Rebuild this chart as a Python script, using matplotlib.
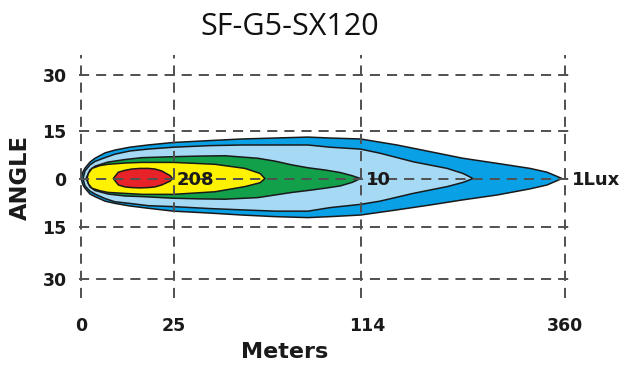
import numpy as np
import matplotlib
matplotlib.use("Agg")
import matplotlib.pyplot as plt
from matplotlib.transforms import ScaledTranslation

# axis ticks (distance in meters is not evenly spaced on the chart)
x_ticks = [0, 25, 114, 360]
y_ticks = [-30, -15, 0, 15, 30]
y_tick_labels = ["30", "15", "0", "15", "30"]

# isolux outlines: distance (m), upper edge (deg), lower edge (deg)
lux1_x = [0, 0.54, 1.08, 2.43, 3.78, 6.49, 9.19, 13.2, 18.1, 25, 42.4, 57.6, 73.3, 89.0, 99.5, 114,
          157.9, 197.6, 237.3, 278.2, 317.9, 338.4, 356.4]
lux1_up = [0, 2.1, 3.3, 5.2, 6.4, 8.1, 9.0, 9.9, 10.6, 11.4, 12.0, 12.5, 12.8, 13.1, 12.8, 12.5,
           10.6, 8.5, 6.4, 4.8, 3.2, 2.0, 0]
lux1_lo = [0, -2.0, -3.0, -4.8, -5.6, -7.0, -7.7, -8.5, -9.2, -10.1, -10.7, -11.3, -11.8, -12.1, -11.8, -11.3,
           -9.7, -8.2, -6.6, -5.1, -3.2, -2.0, 0]

lux3_x = [0.54, 1.08, 2.43, 3.78, 6.49, 9.19, 13.2, 18.1, 25, 42.4, 57.6, 73.3, 89.0, 99.5, 114,
          137.5, 177.3, 218.2, 237.3, 249.4]
lux3_up = [0, 2.4, 4.3, 5.4, 6.6, 7.7, 8.7, 9.3, 9.9, 10.4, 10.6, 10.6, 10.6, 9.9, 9.3,
           8.0, 5.3, 3.2, 1.6, 0]
lux3_lo = [0, -2.3, -3.9, -4.8, -6.2, -7.2, -7.7, -8.4, -8.7, -9.3, -9.7, -10.1, -10.1, -9.0, -8.0,
           -7.0, -4.6, -2.5, -1.2, 0]

lux10_x = [1.35, 2.43, 3.78, 7.30, 11.9, 16.5, 25, 37.6, 49.5, 65.2, 73.3, 81.4, 89.0, 97.1, 104.3, 110.0, 114]
lux10_up = [0, 2.7, 3.9, 5.2, 6.0, 6.6, 6.9, 7.1, 7.2, 6.4, 5.5, 4.3, 3.4, 2.7, 1.9, 0.9, 0]
lux10_lo = [0, -2.6, -3.7, -4.8, -5.4, -5.6, -6.1, -6.3, -6.4, -5.9, -5.1, -4.3, -3.7, -3.0, -2.3, -1.2, 0]

lux40_x = [1.62, 2.03, 2.97, 5.14, 7.30, 11.9, 16.5, 25, 44.7, 59.0, 66.2, 68.5]
lux40_up = [0, 1.7, 3.2, 4.1, 4.5, 4.9, 5.1, 5.1, 4.5, 3.2, 1.6, 0]
lux40_lo = [0, -1.7, -3.0, -3.8, -4.3, -4.6, -4.9, -4.9, -4.1, -2.5, -1.3, 0]

lux208_x = [8.73, 10.1, 11.9, 13.7, 16.0, 18.2, 20.0, 21.8, 24.1, 24.7]
lux208_up = [0, 2.0, 2.6, 3.0, 3.2, 3.2, 3.0, 2.4, 0.9, 0]
lux208_lo = [0, -2.0, -2.6, -2.8, -2.9, -2.8, -2.6, -2.0, -0.8, 0]

zone_colors = ["#0aa0e6", "#a6d9f4", "#13a04b", "#fff200", "#e82229"]

labels = ["208", "10", "1Lux"]
label_x = [25, 114, 360]

# piecewise linear scales so the ticks sit where the original has them
xm = [-100, 0, 25, 114, 360, 1000]
xp = [-370, 0, 92.5, 279.5, 484, 1016]
ya = [-90, -30, -15, 0, 15, 30, 90]
yp = [-308.7, -100.5, -48.5, 0, 47.5, 103.5, 327.3]


def fx(v):
    return np.interp(v, xm, xp)


def fx_inv(v):
    return np.interp(v, xp, xm)


def fy(v):
    return np.interp(v, ya, yp)


def fy_inv(v):
    return np.interp(v, yp, ya)


fig = plt.figure(figsize=(6.4, 3.82), dpi=100)
ax = fig.add_axes([79 / 640, 1 - 298 / 382, (572 - 79) / 640, (298 - 55) / 382])
ax.set_xscale("function", functions=(fx, fx_inv))
ax.set_yscale("function", functions=(fy, fy_inv))

zones = [(lux1_x, lux1_up, lux1_lo), (lux3_x, lux3_up, lux3_lo),
         (lux10_x, lux10_up, lux10_lo), (lux40_x, lux40_up, lux40_lo),
         (lux208_x, lux208_up, lux208_lo)]
for (zx, up, lo), c in zip(zones, zone_colors):
    px = list(zx) + list(zx)[::-1]
    py = list(up) + list(lo)[::-1]
    ax.fill(px, py, facecolor=c, edgecolor="#1a1a1a", linewidth=1.1,
            joinstyle="round", zorder=2)

ax.set_xlim(-0.54, 368.4)
ax.set_ylim(-35.5, 35.4)
ax.set_xticks(x_ticks)
ax.set_xticklabels([str(t) for t in x_ticks])
ax.set_yticks(y_ticks)
ax.set_yticklabels(y_tick_labels)
ax.grid(True, color="#505050", linewidth=1.4, linestyle=(0, (5.2, 3.6)), zorder=3)
ax.set_axisbelow(False)
for s in ax.spines.values():
    s.set_visible(False)
ax.tick_params(length=0, labelsize=12.5)
ax.tick_params(axis="x", pad=14)
ax.tick_params(axis="y", pad=9)
for lab in ax.get_xticklabels() + ax.get_yticklabels():
    lab.set_fontweight("bold")
    lab.set_color("#1a1a1a")
# the "114" label sits a little right of its line in the original
lab114 = ax.get_xticklabels()[2]
lab114.set_transform(lab114.get_transform() + ScaledTranslation(7 / 100, 0, fig.dpi_scale_trans))

offs = [2.5, 4, 5]
for t, lx, o in zip(labels, label_x, offs):
    ax.annotate(t, (lx, 0), xytext=(o, -1), textcoords="offset points",
                ha="left", va="center", fontsize=13, fontweight="bold",
                color="#1a1a1a", zorder=5, annotation_clip=False)

fig.text(290 / 640, 1 - 27 / 382, "SF-G5-SX120", ha="center", va="center",
         fontsize=22, family="Open Sans", color="#111111")
fig.text(20 / 640, 1 - 178 / 382, "ANGLE", rotation=90, ha="center", va="center",
         fontsize=16.3, fontweight="bold", color="#1a1a1a")
fig.text(285 / 640, 1 - 352 / 382, "Meters", ha="center", va="center",
         fontsize=16, fontweight="bold", color="#1a1a1a")

fig.savefig("out.png", dpi=100)
